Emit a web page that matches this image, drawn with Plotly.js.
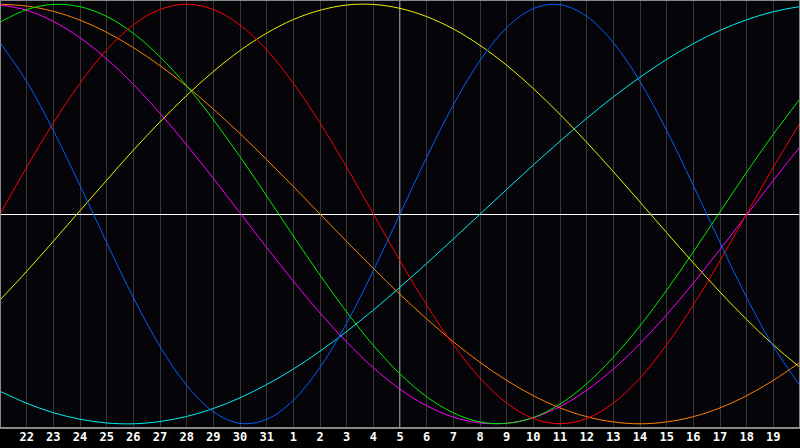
<!DOCTYPE html>
<html>
<head>
<meta charset="utf-8">
<script src="https://cdn.plot.ly/plotly-3.0.1.min.js"></script>
<style>
html,body{margin:0;padding:0;background:#000;}
#chart{width:800px;height:448px;}
</style>
</head>
<body>
<div id="chart"></div>
<script>
// day positions 0..30 (position 15 = today, the 5th)
const positions = [0,1,2,3,4,5,6,7,8,9,10,11,12,13,14,15,16,17,18,19,20,21,22,23,24,25,26,27,28,29,30];
const tickPositions = [1,2,3,4,5,6,7,8,9,10,11,12,13,14,15,16,17,18,19,20,21,22,23,24,25,26,27,28,29];
const tickLabels = ["22","23","24","25","26","27","28","29","30","31","1","2","3","4","5","6","7","8","9","10","11","12","13","14","15","16","17","18","19"];
const todayPosition = 15;

const physical = [0.817,0.631,0.398,0.136,-0.136,-0.398,-0.631,-0.817,-0.942,-0.998,-0.979,-0.888,-0.731,-0.520,-0.270,0.000,0.270,0.520,0.731,0.888,0.979,0.998,0.942,0.817,0.631,0.398,0.136,-0.136,-0.398,-0.631,-0.817];
const emotional = [0.000,0.223,0.434,0.623,0.782,0.901,0.975,1.000,0.975,0.901,0.782,0.623,0.434,0.223,0.000,-0.223,-0.434,-0.623,-0.782,-0.901,-0.975,-1.000,-0.975,-0.901,-0.782,-0.623,-0.434,-0.223,0.000,0.223,0.434];
const intellectual = [0.914,0.974,0.999,0.988,0.942,0.861,0.749,0.611,0.450,0.273,0.086,-0.105,-0.291,-0.467,-0.626,-0.762,-0.871,-0.948,-0.991,-0.998,-0.970,-0.906,-0.809,-0.683,-0.533,-0.363,-0.180,0.010,0.199,0.380,0.549];
const intuitive = [0.997,0.971,0.918,0.840,0.739,0.618,0.480,0.329,0.170,0.005,-0.160,-0.320,-0.472,-0.610,-0.733,-0.835,-0.914,-0.968,-0.996,-0.997,-0.971,-0.918,-0.840,-0.739,-0.618,-0.480,-0.329,-0.169,-0.005,0.160,0.320];
const aesthetic = [-0.410,-0.273,-0.130,0.016,0.161,0.304,0.439,0.565,0.679,0.779,0.862,0.927,0.971,0.996,0.999,0.980,0.941,0.882,0.804,0.709,0.598,0.475,0.342,0.202,0.057,-0.089,-0.233,-0.372,-0.503,-0.624,-0.731];
const awareness = [1.000,0.991,0.966,0.924,0.866,0.793,0.707,0.609,0.500,0.383,0.259,0.131,0.000,-0.131,-0.259,-0.383,-0.500,-0.609,-0.707,-0.793,-0.866,-0.924,-0.966,-0.991,-1.000,-0.991,-0.966,-0.924,-0.866,-0.793,-0.707];
const spiritual = [-0.845,-0.902,-0.947,-0.978,-0.996,-1.000,-0.989,-0.965,-0.927,-0.876,-0.813,-0.739,-0.654,-0.560,-0.458,-0.349,-0.236,-0.119,-0.001,0.117,0.234,0.347,0.456,0.558,0.652,0.737,0.812,0.875,0.926,0.964,0.989];

const series = [
  {name:"Spiritual", y:spiritual, color:"#00f0f0"},
  {name:"Awareness", y:awareness, color:"#ff8000"},
  {name:"Aesthetic", y:aesthetic, color:"#f0f000"},
  {name:"Intuitive", y:intuitive, color:"#ff00ff"},
  {name:"Intellectual", y:intellectual, color:"#00ee00"},
  {name:"Emotional", y:emotional, color:"#ff0000"},
  {name:"Physical", y:physical, color:"#0060ff"}
];

const traces = series.map(s => ({
  x: positions, y: s.y, name: s.name, type: "scatter", mode: "lines",
  line: {color: s.color, width: 1, shape: "spline", smoothing: 1},
  hoverinfo: "skip"
}));

const layout = {
  width: 800, height: 448,
  margin: {l: 0, r: 0, t: 0, b: 20, pad: 0},
  paper_bgcolor: "#000000",
  plot_bgcolor: "#050408",
  showlegend: false,
  xaxis: {
    range: [0, 30], tickmode: "array", tickvals: tickPositions, ticktext: tickLabels,
    showgrid: true, gridcolor: "#363636", gridwidth: 1, zeroline: false,
    showline: false, ticks: "", ticklen: 0,
    tickfont: {family: "DejaVu Sans Mono", size: 12, color: "#ffffff", weight: "bold"},
    fixedrange: true
  },
  yaxis: {
    range: [-1.02, 1.02], showgrid: false, showticklabels: false, ticks: "",
    zeroline: true, zerolinecolor: "#ffffff", zerolinewidth: 1, showline: false,
    fixedrange: true
  },
  shapes: [
    {type: "line", xref: "x", yref: "paper", x0: todayPosition, x1: todayPosition, y0: 0, y1: 1,
     line: {color: "#ffffff", width: 1}, layer: "below"},
    {type: "rect", xref: "paper", yref: "paper", x0: 0, x1: 1, y0: 0, y1: 1,
     line: {color: "#8a8a8a", width: 2}, layer: "above"}
  ]
};

Plotly.newPlot("chart", traces, layout, {displayModeBar: false, staticPlot: true});
</script>
</body>
</html>
